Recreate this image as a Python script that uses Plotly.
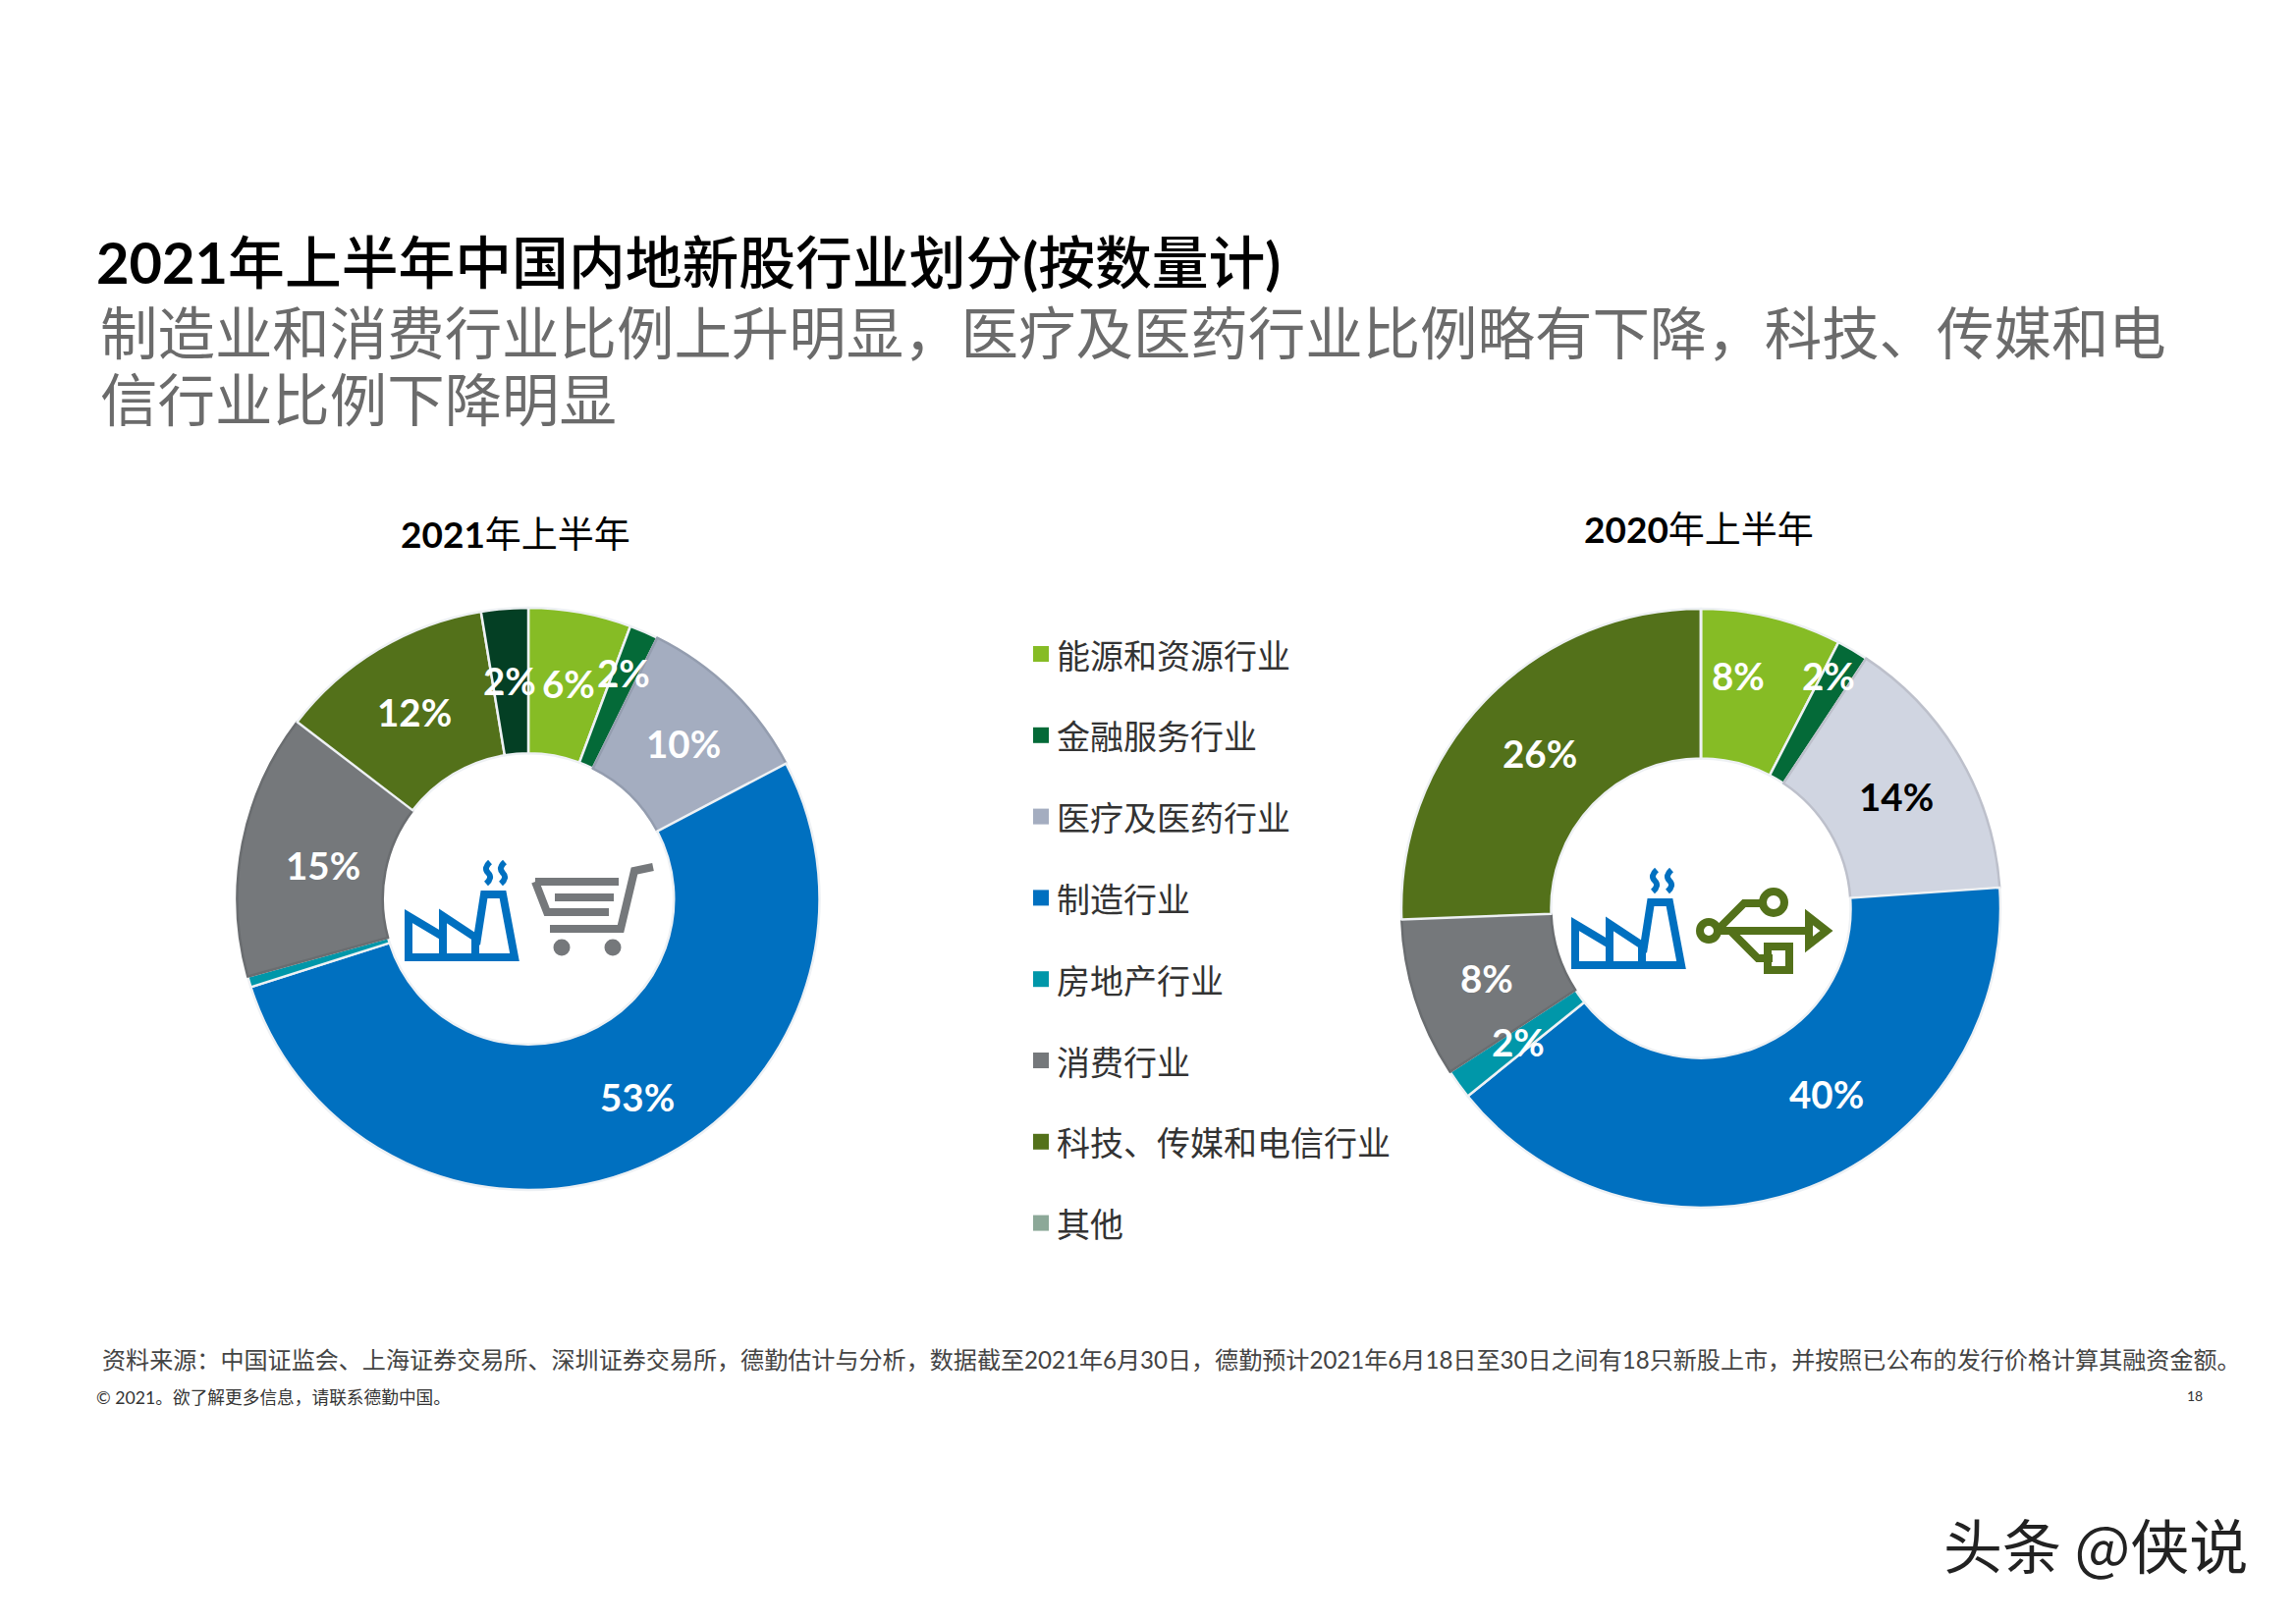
import plotly.graph_objects as go

W, H = 2338, 1652

categories = ["能源和资源行业", "金融服务行业", "医疗及医药行业", "制造行业", "房地产行业", "消费行业", "科技、传媒和电信行业", "其他"]
share_2021 = [5.7, 1.6, 10.0, 52.8, 0.6, 14.7, 12.0, 2.6]
share_2020 = [7.6, 1.7, 14.6, 40.3, 1.6, 8.6, 25.6, 0.0]
labels_2021 = ["6%", "2%", "10%", "53%", "", "15%", "12%", "2%"]
labels_2020 = ["8%", "2%", "14%", "40%", "2%", "8%", "26%", ""]

colors_2021 = ["#86BC25", "#046A38", "#A4ADC0", "#0070C0", "#0097A9", "#75787B", "#53711A", "#043F24"]
colors_2020 = ["#86BC25", "#046A38", "#D0D5E1", "#0070C0", "#0097A9", "#75787B", "#53711A", "#043F24"]
edges_2021 = ["#EEF1F4", "#EEF1F4", "#949DAF", "#EEF1F4", "#EEF1F4", "#6A6D70", "#EEF1F4", "#EEF1F4"]
edges_2020 = ["#EEF1F4", "#EEF1F4", "#BDC0CB", "#EEF1F4", "#EEF1F4", "#6A6D70", "#EEF1F4", "#EEF1F4"]
legend_colors = ["#86BC25", "#046A38", "#A4ADC0", "#0070C0", "#0097A9", "#75787B", "#53711A", "#8CA898"]

# where the labels sit, in page pixels
label_pos_2021 = [(579, 696), (635, 685), (696, 757), (649, 1117), None, (329, 881), (422, 725), (519, 693)]
label_pos_2020 = [(1770, 688), (1862, 688), (1931, 811), (1860, 1114), (1546, 1061), (1514, 996), (1568, 767), None]
label_font = "Lato, Noto Sans CJK SC"
cjk_font = "Lato, Noto Sans CJK SC"

# full-width punctuation as in the original
COMMA = "\uff0c"
COLON = "\uff1a"
title = "<b>2021</b>年上半年中国内地新股行业划分<b>(</b>按数量计<b>)</b>"
subtitle1 = "制造业和消费行业比例上升明显" + COMMA + "医疗及医药行业比例略有下降" + COMMA + "科技、传媒和电"
subtitle2 = "信行业比例下降明显"
source = ("资料来源" + COLON + "中国证监会、上海证券交易所、深圳证券交易所" + COMMA + "德勤估计与分析" + COMMA
          + "数据截至2021年6月30日" + COMMA + "德勤预计2021年6月18日至30日之间有18只新股上市" + COMMA
          + "并按照已公布的发行价格计算其融资金额。")
copyright_txt = "© 2021。欲了解更多信息" + COMMA + "请联系德勤中国。"


def pie_domain(cx, cy, r):
    return dict(x=[(cx - r) / W, (cx + r) / W], y=[1 - (cy + r) / H, 1 - (cy - r) / H])


fig = go.Figure()

fig.add_trace(go.Pie(
    values=share_2021, labels=categories, sort=False, direction="clockwise", rotation=0,
    hole=0.5, textinfo="none", showlegend=False, domain=pie_domain(538, 915.5, 296.5),
    marker=dict(colors=colors_2021, line=dict(color=edges_2021, width=2.5)),
))
fig.add_trace(go.Pie(
    values=share_2020, labels=categories, sort=False, direction="clockwise", rotation=0,
    hole=0.5, textinfo="none", showlegend=False, domain=pie_domain(1732, 925, 305),
    marker=dict(colors=colors_2020, line=dict(color=edges_2020, width=2.5)),
))


def text(x, y, s, size, color="#000000", anchor="center", family=cjk_font, weight=400):
    fig.add_annotation(x=x, y=y, xref="x", yref="y", text=s, showarrow=False, xanchor=anchor, yanchor="middle",
                       font=dict(size=size, color=color, family=family, weight=weight))


for labs, pos in [(labels_2021, label_pos_2021), (labels_2020, label_pos_2020)]:
    for lab, p in zip(labs, pos):
        if p is None:
            continue
        col = "#000000" if lab == "14%" else "#FFFFFF"
        text(p[0], p[1], "<b>" + lab + "</b>", 38.5, col, family=label_font)

text(96, 266, title, 57.8, anchor="left", weight=500)
text(100, 338, subtitle1, 58.45, "#6B6B6B", anchor="left")
text(100, 406, subtitle2, 58.45, "#6B6B6B", anchor="left")
text(525, 543, "<b>2021</b>年上半年", 37)
text(1730, 538, "<b>2020</b>年上半年", 37)
text(102, 1384, source, 24.08, "#444444", anchor="left")
text(96, 1423, copyright_txt, 17.7, "#333333", anchor="left")
text(2235, 1421, "18", 14, "#333333")
text(1977, 1571, "头条 @侠说", 60, "#222222", anchor="left", family="Noto Sans CJK SC")

# legend
for i, (cat, col) in enumerate(zip(categories, legend_colors)):
    y = 666 + i * 82.8
    fig.add_shape(type="rect", x0=1052, x1=1068, y0=y - 8, y1=y + 8, xref="x", yref="y",
                  fillcolor=col, line=dict(width=0))
    text(1074, y + 1, cat, 34, "#333333", anchor="left")


def line_path(points, ox, oy, close=False):
    d = " ".join(("M" if i == 0 else "L") + f"{ox + x:.1f},{oy + y:.1f}" for i, (x, y) in enumerate(points))
    return d + (" Z" if close else "")


def stroke(points, ox, oy, color, width, close=False):
    fig.add_shape(type="path", path=line_path(points, ox, oy, close), xref="x", yref="y",
                  line=dict(color=color, width=width))


def ring(cx, cy, r, color, width, fill="rgba(0,0,0,0)"):
    fig.add_shape(type="circle", x0=cx - r, x1=cx + r, y0=cy - r, y1=cy + r, xref="x", yref="y",
                  line=dict(color=color, width=width), fillcolor=fill)


def factory(ox, oy):
    blue = "#0070C0"
    stroke([(0, 0), (0, -42), (35, -21), (35, -42), (70, -19), (77, -64), (96, -64), (108, 0)], ox, oy, blue, 8, close=True)
    stroke([(35, -21), (35, 0)], ox, oy, blue, 8)
    stroke([(68, -19), (68, 0)], ox, oy, blue, 8)
    for dx in (81, 96):
        fig.add_shape(type="path", xref="x", yref="y", line=dict(color=blue, width=6),
                      path=f"M{ox + dx + 2},{oy - 97} Q{ox + dx - 5},{oy - 91} {ox + dx},{oy - 86} T{ox + dx - 2},{oy - 75}")


factory(416, 975)
factory(1604, 983)

# cart
grey = "#75787B"
ox, oy = 545, 883
stroke([(120, 0), (101, 4), (87, 63), (15, 63)], ox, oy, grey, 8)
stroke([(0, 15), (85, 15)], ox, oy, grey, 8)
stroke([(0, 15), (12, 46), (75, 46)], ox, oy, grey, 8)
stroke([(20, 31), (80, 31)], ox, oy, grey, 8)
ring(ox + 27, oy + 82, 7, grey, 3, grey)
ring(ox + 79, oy + 82, 7, grey, 3, grey)

# usb
olive = "#53711A"
ox, oy = 1730, 948
stroke([(14, 0), (110, 0)], ox, oy, olive, 8)
stroke([(112, -14), (130, 0), (112, 14)], ox, oy, olive, 8, close=True)
stroke([(18, 0), (46, -28), (66, -28)], ox, oy, olive, 8)
stroke([(32, 0), (60, 28), (75, 28)], ox, oy, olive, 8)
ring(ox + 10, oy, 9, olive, 8, "#FFFFFF")
ring(ox + 76, oy - 29, 11, olive, 8, "#FFFFFF")
stroke([(70, 16), (92, 16), (92, 40), (70, 40)], ox, oy, olive, 8, close=True)

fig.update_layout(
    width=W, height=H, autosize=False,
    margin=dict(l=0, r=0, t=0, b=0),
    paper_bgcolor="white", plot_bgcolor="white",
    xaxis=dict(range=[0, W], visible=False, domain=[0, 1], fixedrange=True),
    yaxis=dict(range=[H, 0], visible=False, domain=[0, 1], fixedrange=True),
    showlegend=False,
)

fig.write_html("out.html", post_script="document.body.style.margin='0';", config=dict(displayModeBar=False))
